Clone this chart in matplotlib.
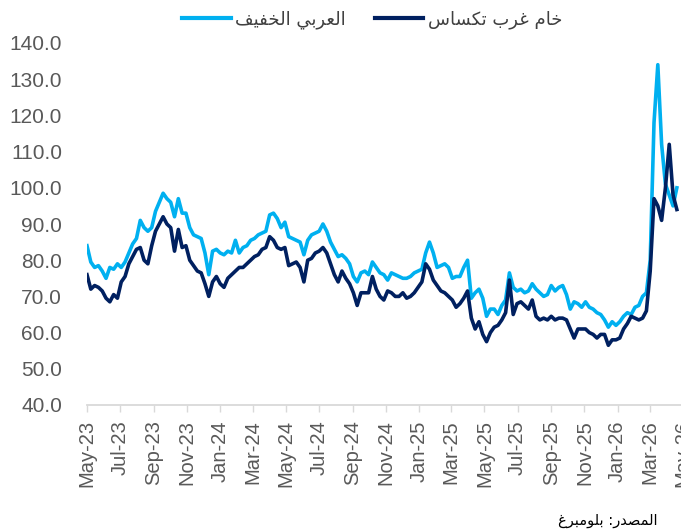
import pandas as pd
import matplotlib
matplotlib.use("Agg")
import matplotlib.pyplot as plt
import matplotlib.dates as mdates

# weekly readings, starting 1 May 2023
week_dates = pd.date_range("2023-05-01", periods=156, freq="7D")

arab_light = [
    84, 79.5, 78, 78.5, 77, 75, 78, 77.5, 79, 78, 79.5, 82, 84.5, 86, 91, 89, 88, 89, 93.5, 96, 98.5, 97, 96, 92, 97, 93,
    93, 89, 87, 86.5, 86, 82, 76, 82.5, 83, 82, 81.5, 82.5, 82, 85.5, 82, 83.5, 84, 85.5, 86, 87, 87.5, 88, 92.5, 93, 91.5, 89,
    90.5, 86.5, 86, 85.5, 85, 81.5, 85.5, 87, 87.5, 88, 90, 88, 85, 83, 81, 81.5, 80.5, 79, 75.5, 74, 76.5, 77, 76, 79.5, 78, 76.5,
    76, 74.5, 76.5, 76, 75.5, 75, 75, 75.5, 76.5, 77, 77.5, 82, 85, 82, 78, 78.5, 79, 78, 75, 75.5, 75.5, 78, 80, 69.5, 71, 72, 69.5,
    64.5, 66.5, 66.5, 65, 67.5, 69, 76.5, 72.5, 71.5, 72, 71, 71.5, 73.5, 72, 71, 70, 70.5, 73, 71.5, 72.5, 73, 70.5, 66.5, 68.5, 68, 67,
    68.5, 67, 66.5, 65.5, 65, 63.5, 61.5, 63, 62, 63, 64.5, 65.5, 65, 67, 67.5, 70, 71, 80, 118, 134, 112, 101, 98, 95, 100,
]

wti = [
    76, 72, 73, 72.5, 71.5, 69.5, 68.5, 70.5, 69.5, 74, 75.5, 79, 81, 83, 83.5, 80, 79, 84, 88, 90, 92, 90, 89, 82.5, 88.5, 83.5,
    84, 80, 78.5, 77, 76.5, 73.5, 70, 74, 75.5, 73.5, 72.5, 75, 76, 77, 78, 78, 79, 80, 81, 81.5, 83, 83.5, 86.5, 85.5, 83.5, 83,
    83.5, 78.5, 79, 79.5, 78, 74, 80, 80.5, 82, 82.5, 83.5, 82, 79, 76, 74, 77, 75, 73.5, 71, 67.5, 71, 71, 71, 75.5, 72, 70,
    69, 71.5, 71, 70, 70, 71, 69.5, 70, 71, 72.5, 74, 79, 77.5, 74.5, 73, 71.5, 71, 70, 69, 67, 68, 69.5, 71.5, 64, 61, 63, 59.5,
    57.5, 60, 61.5, 62, 63.5, 65.5, 74.5, 65, 68, 68.5, 67.5, 66.5, 69, 64.5, 63.5, 64, 63.5, 64.5, 63.5, 64, 64, 63.5, 61, 58.5, 61, 61,
    61, 60, 59.5, 58.5, 59.5, 59.5, 56.5, 58, 58, 58.5, 61, 62.5, 64.5, 64, 63.5, 64, 66, 77, 97, 95, 91, 100, 112, 98, 94,
]

label_light = "العربي الخفيف"
label_wti = "خام غرب تكساس"
source_text = "المصدر: بلومبرغ"

# matplotlib has no arabic shaping, so pick presentation forms by hand
# (isolated, final, initial, medial)
FORMS = {
    "ا": ("\ufe8d", "\ufe8e", None, None),
    "ب": ("\ufe8f", "\ufe90", "\ufe91", "\ufe92"),
    "ت": ("\ufe95", "\ufe96", "\ufe97", "\ufe98"),
    "خ": ("\ufea5", "\ufea6", "\ufea7", "\ufea8"),
    "د": ("\ufea9", "\ufeaa", None, None),
    "ر": ("\ufead", "\ufeae", None, None),
    "س": ("\ufeb1", "\ufeb2", "\ufeb3", "\ufeb4"),
    "ص": ("\ufeb9", "\ufeba", "\ufebb", "\ufebc"),
    "ع": ("\ufec9", "\ufeca", "\ufecb", "\ufecc"),
    "غ": ("\ufecd", "\ufece", "\ufecf", "\ufed0"),
    "ف": ("\ufed1", "\ufed2", "\ufed3", "\ufed4"),
    "ك": ("\ufed9", "\ufeda", "\ufedb", "\ufedc"),
    "ل": ("\ufedd", "\ufede", "\ufedf", "\ufee0"),
    "م": ("\ufee1", "\ufee2", "\ufee3", "\ufee4"),
    "و": ("\ufeed", "\ufeee", None, None),
    "ي": ("\ufef1", "\ufef2", "\ufef3", "\ufef4"),
}


def shape(text):
    out = []
    for i, ch in enumerate(text):
        if ch not in FORMS:
            out.append(ch)
            continue
        iso, fin, ini, med = FORMS[ch]
        prev = text[i - 1] if i > 0 else ""
        nxt = text[i + 1] if i + 1 < len(text) else ""
        join_prev = prev in FORMS and FORMS[prev][2] is not None
        join_next = ini is not None and nxt in FORMS
        if join_prev and join_next:
            out.append(med)
        elif join_prev:
            out.append(fin)
        elif join_next:
            out.append(ini)
        else:
            out.append(iso)
    return "".join(reversed(out))


plt.rcParams["font.family"] = ["Liberation Sans", "DejaVu Sans"]

fig = plt.figure(figsize=(6.81, 5.31), dpi=100)
ax = fig.add_axes([87 / 681, 126 / 531, 598 / 681, 362 / 531])

ax.plot(week_dates, arab_light, color="#00B0F0", lw=2.6, label=shape(label_light))
ax.plot(week_dates, wti, color="#002060", lw=2.6, label=shape(label_wti))

ax.set_xlim(pd.Timestamp("2023-05-01"), pd.Timestamp("2026-05-05"))
ax.set_ylim(40, 140)
ax.set_yticks(range(40, 141, 10))
ax.yaxis.set_major_formatter(matplotlib.ticker.FormatStrFormatter("%.1f"))

ax.xaxis.set_major_locator(mdates.MonthLocator(bymonth=[1, 3, 5, 7, 9, 11]))
ax.xaxis.set_major_formatter(mdates.DateFormatter("%b-%y"))
plt.setp(ax.get_xticklabels(), rotation=90)

for side in ["top", "right", "left"]:
    ax.spines[side].set_visible(False)
ax.spines["bottom"].set_color("#d9d9d9")
ax.spines["bottom"].set_linewidth(1.3)

ax.tick_params(axis="y", length=0, pad=18, labelsize=15, labelcolor="#595959")
ax.tick_params(axis="x", length=5, width=1, color="#d9d9d9", pad=6,
               labelsize=14.5, labelcolor="#595959")

leg = fig.legend(loc="center", bbox_to_anchor=(372 / 681, 1 - 20 / 531), ncol=2,
                 frameon=False, handlelength=2.7, handletextpad=0.25, columnspacing=1.6,
                 prop={"family": ["DejaVu Sans"], "size": 13})
for t in leg.get_texts():
    t.set_color("#404040")
for h in leg.get_lines():
    h.set_linewidth(3)

fig.text(658 / 681, 1 - 520 / 531, shape(source_text), ha="right", va="center",
         family=["DejaVu Sans"], fontsize=10.5, color="#000000")

fig.savefig("out.png", dpi=100)
